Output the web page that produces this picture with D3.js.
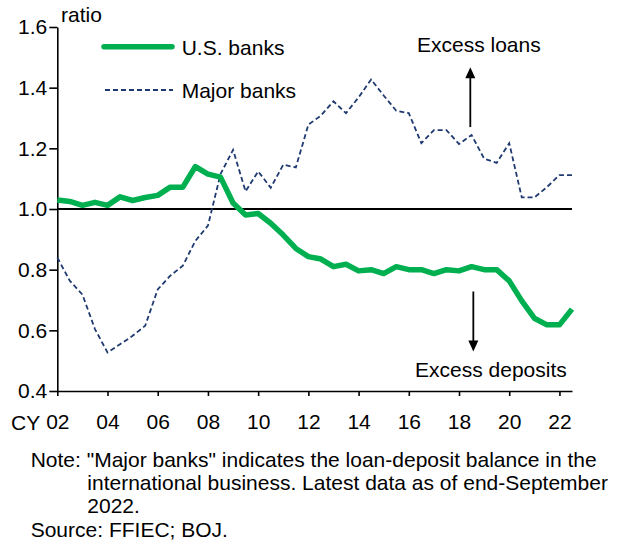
<!doctype html>
<html lang="en">
    <head>
        <meta charset="utf-8">
        <script src="https://d3js.org/d3.v7.min.js"></script>
        <style>
            body { margin: 0; background: #fff; }
            text { font-family: "Liberation Sans", Arial, sans-serif; fill: #000; }
        </style>
    </head>
    <body>
        <div id="chart"></div>

        <script>
            // half-year periods, 2002 to 2022 (latest = end-Sep 2022)
            var periods = [2002, 2002.5, 2003, 2003.5, 2004, 2004.5, 2005, 2005.5, 2006, 2006.5,
                           2007, 2007.5, 2008, 2008.5, 2009, 2009.5, 2010, 2010.5, 2011, 2011.5,
                           2012, 2012.5, 2013, 2013.5, 2014, 2014.5, 2015, 2015.5, 2016, 2016.5,
                           2017, 2017.5, 2018, 2018.5, 2019, 2019.5, 2020, 2020.5, 2021, 2021.5,
                           2022, 2022.5]

            var usBanks = [1.03, 1.025, 1.012, 1.022, 1.012, 1.04, 1.028, 1.038, 1.045, 1.072,
                           1.072, 1.14, 1.115, 1.105, 1.02, 0.98, 0.985, 0.953, 0.914, 0.87,
                           0.843, 0.835, 0.81, 0.818, 0.796, 0.80, 0.787, 0.81, 0.80, 0.80,
                           0.787, 0.80, 0.796, 0.81, 0.80, 0.80, 0.763, 0.697, 0.64, 0.618,
                           0.618, 0.67]

            var majorBanks = [0.84, 0.763, 0.718, 0.604, 0.527, 0.554, 0.582, 0.615, 0.735, 0.78,
                              0.813, 0.895, 0.945, 1.115, 1.195, 1.058, 1.124, 1.07, 1.146, 1.137,
                              1.278, 1.308, 1.355, 1.316, 1.368, 1.427, 1.374, 1.324, 1.316, 1.217,
                              1.26, 1.26, 1.214, 1.244, 1.166, 1.152, 1.217, 1.038, 1.038, 1.072,
                              1.112, 1.112]

            var xTickYears = [2002, 2004, 2006, 2008, 2010, 2012, 2014, 2016, 2018, 2020, 2022]
            var xTickLabels = ["02", "04", "06", "08", "10", "12", "14", "16", "18", "20", "22"]
            var yTicks = [0.4, 0.6, 0.8, 1.0, 1.2, 1.4, 1.6]

            var noteLines = ["Note: \"Major banks\" indicates the loan-deposit balance in the",
                             "international business. Latest data as of end-September",
                             "2022.",
                             "Source: FFIEC; BOJ."]

            var width = 617
            var height = 544
            var green = "#00b050"
            var navy = "#1f3a70"
            var fontSize = "21px"

            var svg = d3.select("#chart")
                .append("svg")
                .attr("width", width)
                .attr("height", height)

            var x = d3.scaleLinear().domain([2002, 2022.5]).range([57.3, 572])
            var y = d3.scaleLinear().domain([0.4, 1.6]).range([391, 27])

            // y axis
            var yAxis = svg.append("g")
                .attr("transform", "translate(" + x(2002) + ",0)")
                .call(d3.axisLeft(y).tickValues(yTicks).tickFormat(d3.format(".1f"))
                    .tickSize(8).tickSizeOuter(0).tickPadding(2))
            yAxis.select(".domain").attr("stroke", "#000").attr("stroke-width", 1.6)
            yAxis.selectAll(".tick line").attr("stroke", "#000").attr("stroke-width", 1.6)
            yAxis.selectAll("text").style("font-size", fontSize)
                .style("font-family", "Liberation Sans, Arial, sans-serif").attr("fill", "#000")

            // x axis
            var xAxis = svg.append("g")
                .attr("transform", "translate(0," + y(0.4) + ")")
                .call(d3.axisBottom(x).tickValues(xTickYears)
                    .tickFormat(function(d, i){ return xTickLabels[i] })
                    .tickSize(5).tickSizeOuter(0).tickPadding(18))
            xAxis.select(".domain").attr("stroke", "#000").attr("stroke-width", 1.6)
            xAxis.selectAll(".tick line").attr("stroke", "#000").attr("stroke-width", 1.6)
            xAxis.selectAll("text").style("font-size", fontSize)
                .style("font-family", "Liberation Sans, Arial, sans-serif").attr("fill", "#000")

            svg.append("text").attr("x", 11).attr("y", 429.5).style("font-size", fontSize).text("CY")
            svg.append("text").attr("x", 61).attr("y", 22).style("font-size", fontSize).text("ratio")

            // 1.0 reference line
            svg.append("line")
                .attr("x1", x(2002)).attr("x2", x(2022.5))
                .attr("y1", y(1.0)).attr("y2", y(1.0))
                .attr("stroke", "#000").attr("stroke-width", 1.8)

            var line = d3.line()
                .x(function(d, i){ return x(periods[i]) })
                .y(function(d){ return y(d) })

            svg.append("path")
                .datum(majorBanks)
                .attr("d", line)
                .attr("fill", "none")
                .attr("stroke", navy)
                .attr("stroke-width", 1.8)
                .attr("stroke-dasharray", "5,3")

            svg.append("path")
                .datum(usBanks)
                .attr("d", line)
                .attr("fill", "none")
                .attr("stroke", green)
                .attr("stroke-width", 5.5)
                .attr("stroke-linejoin", "round")

            // legend
            svg.append("line").attr("x1", 104).attr("x2", 172).attr("y1", 46.7).attr("y2", 46.7)
                .attr("stroke", green).attr("stroke-width", 5.5).attr("stroke-linecap", "round")
            svg.append("text").attr("x", 181.7).attr("y", 55).style("font-size", fontSize).text("U.S. banks")
            svg.append("line").attr("x1", 105).attr("x2", 173).attr("y1", 90).attr("y2", 90)
                .attr("stroke", navy).attr("stroke-width", 1.8).attr("stroke-dasharray", "5,3")
            svg.append("text").attr("x", 181.7).attr("y", 97.5).style("font-size", fontSize).text("Major banks")

            // annotations
            function arrow(xv, fromV, toV) {
                var ax = x(xv), y0 = y(fromV), y1 = y(toV)
                var dir = y1 < y0 ? 1 : -1
                svg.append("line").attr("x1", ax).attr("x2", ax)
                    .attr("y1", y0).attr("y2", y1 + dir * 9)
                    .attr("stroke", "#000").attr("stroke-width", 1.8)
                svg.append("path")
                    .attr("d", "M" + ax + "," + y1 + "L" + (ax - 5) + "," + (y1 + dir * 11) +
                               "L" + (ax + 5) + "," + (y1 + dir * 11) + "Z")
                    .attr("fill", "#000")
            }
            arrow(2018.45, 1.27, 1.467)
            arrow(2018.57, 0.728, 0.53)

            svg.append("text").attr("x", 417).attr("y", 52).style("font-size", fontSize).text("Excess loans")
            svg.append("text").attr("x", 415).attr("y", 377).style("font-size", fontSize).text("Excess deposits")

            // note and source
            var noteX = [30.7, 87.3, 87.3, 30.7]
            var noteY = [466.7, 489.5, 513, 536.7]
            svg.selectAll(".note")
                .data(noteLines)
                .enter()
                .append("text")
                .attr("class", "note")
                .attr("x", function(d, i){ return noteX[i] })
                .attr("y", function(d, i){ return noteY[i] })
                .style("font-size", fontSize)
                .text(function(d){ return d })
        </script>
    </body>
</html>
